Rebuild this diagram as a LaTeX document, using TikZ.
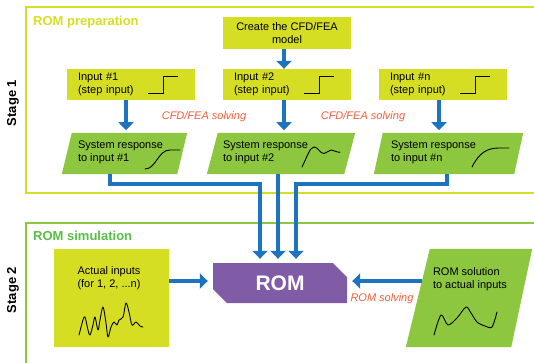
\documentclass[tikz,border=0pt]{standalone}
\usepackage{fontspec}
\setmainfont{Liberation Sans}
\usetikzlibrary{arrows.meta,calc,shapes.misc}
\definecolor{yel}{RGB}{214,222,35}
\definecolor{grn}{RGB}{141,198,63}
\definecolor{blu}{RGB}{30,115,190}
\definecolor{pur}{RGB}{128,91,166}
\definecolor{org}{RGB}{240,95,60}
\definecolor{simgrn}{RGB}{90,190,70}
\tikzset{
  ybox/.style={fill=yel, inner xsep=11pt, inner ysep=0pt, align=left},
  pbox/.style={inner sep=0pt},
  ptext/.style={anchor=west, inner sep=0pt, align=left},
  conn/.style={draw=blu, line width=4pt, line join=miter, -{Triangle[width=15pt,length=8pt]}},
  solvelbl/.style={text=org, font=\fontsize{11}{13}\selectfont\itshape},
  stagelbl/.style={rotate=90, font=\fontsize{13}{15}\selectfont\bfseries},
  wave/.style={draw=black, line width=0.9pt, line cap=round, line join=round},
}
\begin{document}
\begin{tikzpicture}[x=1pt,y=-1pt, font=\fontsize{11}{13}\selectfont]
\useasboundingbox (0,0) rectangle (534,362);
\fill[white] (0,0) rectangle (534,362);

% frames
\draw[yel, line width=2pt] (534,7) -- (26,7) -- (26,193) -- (534,193);
\draw[grn, line width=1.6pt] (534,223) -- (26,223) -- (26,364);
\node[stagelbl] (st1) at (13,103) {Stage 1};
\node[stagelbl] (st2) at (13,290) {Stage 2};
\node[anchor=west, inner sep=0pt, text=yel, font=\fontsize{13}{15}\selectfont\bfseries] (prep) at (33,22.5) {ROM preparation};
\node[anchor=west, inner sep=0pt, text=simgrn, font=\fontsize{13}{15}\selectfont\bfseries] (sim) at (33,236) {ROM simulation};

% stage 1 boxes
\node[ybox, minimum width=128pt, minimum height=32pt, align=center, inner xsep=0pt] (cr) at (287,33) {Create the CFD/FEA\\model};
\node[ybox, text width=106pt, minimum height=31pt] (in1) at (131,84.5) {Input \#1\\(step input)};
\node[ybox, text width=106pt, minimum height=31pt] (in2) at (287,84.5) {Input \#2\\(step input)};
\node[ybox, text width=106pt, minimum height=31pt] (inn) at (443,84.5) {Input \#n\\(step input)};
\foreach \n in {in1,in2,inn}{
  \draw[wave, line cap=butt, line join=miter, line width=0.8pt] ($(\n.east)+(-47,8.5)$) -- ++(15,0) -- ++(0,-17) -- ++(15,0);
}

% parallelograms
\node[pbox, minimum width=125pt, minimum height=41pt] (s1) at (124.5,153.5) {};
\node[pbox, minimum width=148pt, minimum height=41pt] (s2) at (281,153.5) {};
\node[pbox, minimum width=149pt, minimum height=41pt] (sn) at (448.5,153.5) {};
\foreach \n/\d in {s1/10,s2/11,sn/9}{
  \fill[grn] ($(\n.north west)+(\d,0)$) -- (\n.north east) -- ($(\n.south east)+(-\d,0)$) -- (\n.south west) -- cycle;
}
\node[ptext] (t1) at ($(s1.west)+(16,-1.5)$) {System response\\to input \#1};
\node[ptext] (t2) at ($(s2.west)+(16,-1.5)$) {System response\\to input \#2};
\node[ptext] (tn) at ($(sn.west)+(17,-1.5)$) {System response\\to input \#n};
\draw[wave] (145,169) .. controls (156,169) and (158,150) .. (170,150) -- (180,150);
\draw[wave] (302,167) .. controls (307,157) and (310,147) .. (314,147) .. controls (318,147) and (320,153.5) .. (324,153.5) .. controls (327,153.5) and (328,150) .. (331,150) .. controls (334,150) and (336,152.3) .. (340,152.3);
\draw[wave] (472,167) .. controls (479,153) and (487,148) .. (499,148) -- (509,148);

\node[solvelbl] (sv1) at (204,117) {CFD/FEA solving};
\node[solvelbl] (sv2) at (363,117) {CFD/FEA solving};

% stage 2
\node[fill=yel, inner sep=0pt, minimum width=115pt, minimum height=98pt] (act) at (111.5,298) {};
\node[inner sep=0pt, align=center] (actt) at (109,278.5) {Actual inputs\\(for 1, 2, ...n)};
\draw[wave] plot[smooth, tension=0.55] coordinates {(79,335) (83,320) (85,317) (88,330) (90,335) (93,325) (95,317) (98,330) (100,320) (103,307) (106,323) (108,337) (111,327) (114,322) (117,325) (119,320) (123,317) (126,303) (129,312) (132,325) (136,322) (140,326) (143,327)};

\node[chamfered rectangle, chamfered rectangle corners={north east,south west}, chamfered rectangle xsep=7pt, chamfered rectangle ysep=7pt, fill=pur, inner sep=0pt, minimum width=134pt, minimum height=40pt, text=white, font=\fontsize{21}{24}\selectfont\bfseries] (rom) at (280,283) {ROM};

\node[pbox, minimum width=126pt, minimum height=98pt] (sol) at (469,298) {};
\fill[grn] ($(sol.north west)+(24,0)$) -- (sol.north east) -- ($(sol.south east)+(-21,0)$) -- (sol.south west) -- cycle;
\node[ptext] (solt) at ($(sol.west)+(27,-19)$) {ROM solution\\to actual inputs};
\draw[wave] plot[smooth, tension=0.5] coordinates {(434,335) (441,315) (448,325) (457,318) (466,307) (471,313) (477,322) (485,326) (492,327) (497,312)};
\node[solvelbl] (sv3) at (382,299) {ROM solving};

% connectors
\draw[conn] ($(cr.south)+(-3,0)$) -- ($(in2.north)+(-3,0)$);
\draw[conn] ($(in1.south)+(-5,0)$) -- ($(in1.south)+(-5,30)$);
\draw[conn] ($(in2.south)+(-3,0)$) -- ($(in2.south)+(-3,30)$);
\draw[conn] ($(inn.south)+(-4,0)$) -- ($(inn.south)+(-4,30)$);
\draw[conn] ($(s1.south)+(-15,0)$) -- ++(0,10) -| ($(rom.north)+(-20,-4)$);
\draw[conn] ($(s2.south)+(-3,0)$) -- ($(rom.north)+(-2,-4)$);
\draw[conn] ($(sn.south)+(-1.5,0)$) -- ++(0,10) -| ($(rom.north)+(16,-4)$);
\draw[conn] ($(act.east)+(0,-17)$) -- ($(rom.west)+(-5,-2)$);
\draw[conn] ($(sol.west)+(16,-17)$) -- ($(rom.east)+(5,-2)$);
\end{tikzpicture}
\end{document}
